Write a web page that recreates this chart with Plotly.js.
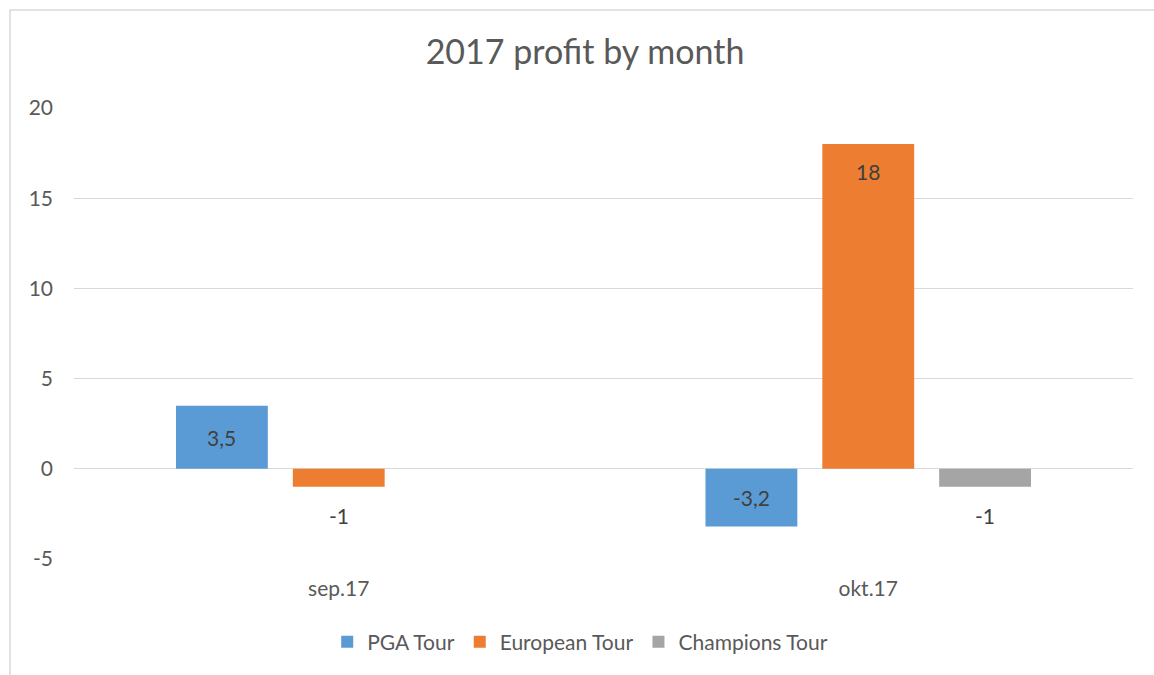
<!DOCTYPE html>
<html>
<head>
<meta charset="utf-8">
<script src="https://cdn.plot.ly/plotly-3.0.1.min.js"></script>
<style>html,body{margin:0;padding:0;background:#fff;}#chart{width:1154px;height:675px;}</style>
</head>
<body>
<div id="chart"></div>
<script>
const categories = ['sep.17', 'okt.17'];
const pgaTour = [3.5, -3.2];
const europeanTour = [-1, 18];
const championsTour = [null, -1];
const seriesNames = ['PGA Tour', 'European Tour', 'Champions Tour'];
const yTickValues = [-5, 0, 5, 10, 15, 20];
const yTickLabels = ['-5', '0', '5', '10', '15', '20'];
const colors = ['#5B9BD5', '#ED7D31', '#A5A5A5'];

function fmt(v) { return v === null ? '' : String(v).replace('.', ','); }

const font = 'Lato, "Open Sans", "Liberation Sans", sans-serif';
const labelFont = {family: font, size: 21, color: '#404040'};

const allSeries = [pgaTour, europeanTour, championsTour];

const traces = allSeries.map((s, i) => ({
  type: 'bar', name: seriesNames[i], x: categories, y: s, marker: {color: colors[i]},
  textposition: 'none'
}));

const L = 74, R = 21, T = 108, B = 116, W = 1154, H = 675;
const pw = W - L - R, ph = H - T - B;
const bargap = 0.338, bargroupgap = 0.214;
const slotPx = (1 - bargap) / allSeries.length * pw / categories.length;

// Data labels, placed like Excel's default: below small negative bars, centred in medium bars, near the end of tall bars
const annotations = [];
allSeries.forEach((s, i) => {
  s.forEach((v, j) => {
    if (v === null) return;
    const a = {x: categories[j], xref: 'x', yref: 'y', text: fmt(v), showarrow: false,
      xshift: (i - (allSeries.length - 1) / 2) * slotPx, font: labelFont, xanchor: 'center', yanchor: 'middle'};
    const sign = v < 0 ? -1 : 1;
    if (Math.abs(v) < 2) { a.y = v; a.yshift = sign * 29; }
    else if (Math.abs(v) >= 10) { a.y = v; a.yshift = -sign * 27; }
    else { a.y = v / 2; a.yshift = 0; }
    annotations.push(a);
  });
});

const layout = {
  width: W, height: H,
  margin: {l: L, r: R, t: T, b: B, pad: 0},
  paper_bgcolor: '#ffffff', plot_bgcolor: '#ffffff',
  separators: ',.',
  font: {family: font, size: 21, color: '#595959'},
  title: {text: '2017 profit by month', font: {family: font, size: 34, color: '#595959'},
          x: 585 / W, xanchor: 'center', y: 1 - 52 / H, yanchor: 'middle', xref: 'container', yref: 'container'},
  barmode: 'group', bargap: bargap, bargroupgap: bargroupgap,
  xaxis: {type: 'category', showgrid: false, zeroline: false, showline: false, ticks: '',
          tickfont: {family: font, size: 21, color: '#595959'}, ticklabelstandoff: 15, fixedrange: true},
  yaxis: {range: [-5, 20], tickmode: 'array', tickvals: yTickValues, ticktext: yTickLabels,
          showgrid: true, gridcolor: '#d9d9d9', gridwidth: 1,
          zeroline: true, zerolinecolor: '#d9d9d9', zerolinewidth: 1, showline: false, ticks: '',
          tickfont: {family: font, size: 21, color: '#595959'}, ticklabelstandoff: 20, fixedrange: true},
  showlegend: true,
  legend: {orientation: 'h', x: 0.478, xanchor: 'center', y: (559 - 642) / ph, yanchor: 'middle',
           font: {family: font, size: 21, color: '#595959'}, traceorder: 'normal', itemwidth: 30},
  annotations: annotations,
  shapes: [{type: 'rect', xref: 'paper', yref: 'paper',
            x0: (10 - L) / pw, x1: (1170 - L) / pw, y0: (559 - 700) / ph, y1: (559 - 10) / ph,
            line: {color: '#d9d9d9', width: 1.5}, fillcolor: 'rgba(0,0,0,0)', layer: 'below'}]
};

Plotly.newPlot('chart', traces, layout, {displayModeBar: false, staticPlot: true});
</script>
</body>
</html>
